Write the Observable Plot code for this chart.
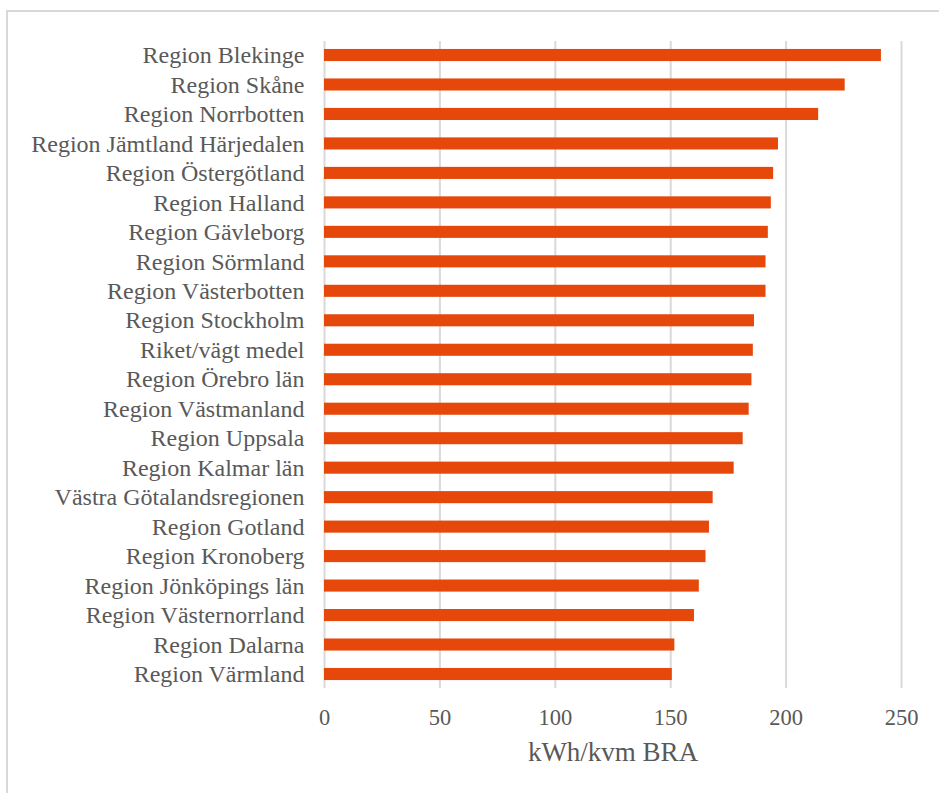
<!DOCTYPE html>
<html>
<head>
<meta charset="utf-8">
<script src="https://cdn.jsdelivr.net/npm/d3@7"></script>
<script src="https://cdn.jsdelivr.net/npm/@observablehq/plot@0.6"></script>
<style>
  html, body { margin: 0; padding: 0; background: #fff; }
  #wrap { position: relative; width: 939px; height: 793px; overflow: hidden; }
  #frame { position: absolute; left: 6px; top: 10px; width: 940px; height: 800px; border: 2px solid #d9d9d9; box-sizing: border-box; }
  #chart { position: absolute; left: 0; top: 0; }
  #chart svg { font-family: "Liberation Serif", "Times New Roman", serif; }
  #chart g[aria-label="y-axis tick label"] text { font-size: 24px; fill: #595959; }
  #chart g[aria-label="x-axis tick label"] text { font-size: 22.5px; fill: #595959; }
  #chart g[aria-label="x-axis label"] text { font-size: 27px; fill: #595959; }
</style>
</head>
<body>
<div id="wrap"><div id="frame"></div><div id="chart"></div></div>
<script>
const categories = ["Region Blekinge","Region Skåne","Region Norrbotten","Region Jämtland Härjedalen","Region Östergötland","Region Halland","Region Gävleborg","Region Sörmland","Region Västerbotten","Region Stockholm","Riket/vägt medel","Region Örebro län","Region Västmanland","Region Uppsala","Region Kalmar län","Västra Götalandsregionen","Region Gotland","Region Kronoberg","Region Jönköpings län","Region Västernorrland","Region Dalarna","Region Värmland"];
const values = [241.3,225.6,214.1,196.7,194.6,193.6,192.3,191.3,191.3,186.3,185.8,185.2,184.0,181.4,177.5,168.4,166.8,165.3,162.4,160.3,151.8,150.7];
const xTicks = [0,50,100,150,200,250];
const xLabel = "kWh/kvm BRA";

const data = categories.map((c, i) => ({region: c, value: values[i]}));

const chart = Plot.plot({
  width: 939,
  height: 793,
  marginLeft: 324,
  marginRight: 38,
  marginTop: 41,
  marginBottom: 105,
  style: {background: "transparent"},
  x: {domain: [0, 250]},
  y: {domain: categories, paddingInner: 0.59, paddingOuter: 0.27, round: false},
  marks: [
    Plot.gridX(xTicks, {stroke: "#d9d9d9", strokeOpacity: 1, strokeWidth: 2}),
    Plot.barX(data, {x: "value", y: "region", fill: "#e6480c"}),
    Plot.axisY({tickSize: 0, tickPadding: 20, label: null}),
    Plot.axisX({ticks: xTicks, tickSize: 0, tickPadding: 21, label: xLabel, labelAnchor: "center", labelArrow: "none", labelOffset: 72})
  ]
});
document.getElementById("chart").appendChild(chart);
</script>
</body>
</html>
